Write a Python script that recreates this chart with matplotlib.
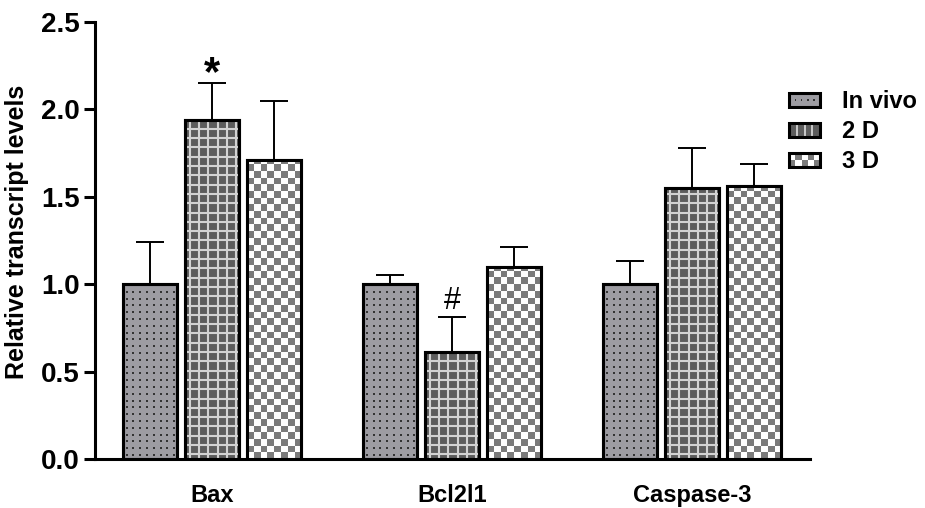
import numpy as np
import matplotlib
matplotlib.use("Agg")
import matplotlib.pyplot as plt
from matplotlib.patches import Rectangle
from matplotlib.lines import Line2D
from matplotlib.legend_handler import HandlerBase

# ---- data ----
genes = ["Bax", "Bcl2l1", "Caspase-3"]
groups = ["In vivo", "2 D", "3 D"]
in_vivo = [1.00, 1.00, 1.00]
in_vivo_err = [0.24, 0.05, 0.13]
two_d = [1.94, 0.61, 1.55]
two_d_err = [0.21, 0.20, 0.23]
three_d = [1.71, 1.10, 1.56]
three_d_err = [0.34, 0.11, 0.13]
marks = [("*", 0, 1, 0.09), ("#", 1, 1, 0.095)]  # (symbol, gene, group, gap above error bar)

plt.rcParams["font.family"] = ["Liberation Sans", "DejaVu Sans"]
plt.rcParams["font.weight"] = "bold"

fig = plt.figure(figsize=(9.25, 5.08), dpi=100)
ax = fig.add_axes([95 / 925, 49 / 508, 715 / 925, 437 / 508])

x = np.arange(len(genes))
width = 0.225
step = 0.258
series = [(in_vivo, in_vivo_err), (two_d, two_d_err), (three_d, three_d_err)]
XLIM = (-0.4875, 2.49)
YLIM = (0, 2.5)
ax.set_xlim(*XLIM)
ax.set_ylim(*YLIM)

EDGE = 2.2
DOT_FACE, DOT_COL = "#9d9ca2", "#333333"
GRID_FACE, GRID_COL = "#5c5c5c", "#d2d2d2"
CHECK_GRAY = "#7b7b7b"

b0 = ax.bar(x - step, in_vivo, width, facecolor=DOT_FACE, edgecolor="black",
            linewidth=EDGE, zorder=3)
b1 = ax.bar(x, two_d, width, facecolor=GRID_FACE, edgecolor="black",
            linewidth=EDGE, zorder=3)
b2 = ax.bar(x + step, three_d, width, facecolor="white", edgecolor="black",
            linewidth=EDGE, zorder=3)

# textures drawn over the bar faces, clipped to each bar, edge redrawn on top
fig.canvas.draw()
pxx = ax.transData.transform((1, 0))[0] - ax.transData.transform((0, 0))[0]
pxy = ax.transData.transform((0, 1))[1] - ax.transData.transform((0, 0))[1]


def outline(p):
    r = Rectangle((p.get_x(), 0), p.get_width(), p.get_height(), facecolor="none",
                  edgecolor="black", linewidth=EDGE, zorder=3.5)
    ax.add_patch(r)


for p in b0:
    x0, w, h = p.get_x(), p.get_width(), p.get_height()
    sp = 6.8
    xs = x0 + (np.arange(3.5, w * pxx, sp)) / pxx
    ys = (np.arange(4.0, h * pxy, sp)) / pxy
    gx, gy = np.meshgrid(xs, ys)
    sc = ax.scatter(gx.ravel(), gy.ravel(), s=2.2, marker="s", color=DOT_COL,
                    linewidths=0, zorder=3.2)
    sc.set_clip_path(p)
    outline(p)

for p in b1:
    x0, w, h = p.get_x(), p.get_width(), p.get_height()
    sp = 9.3
    vx = x0 + np.arange(sp / 2, w * pxx, sp) / pxx
    hy = np.arange(sp / 2, h * pxy, sp) / pxy
    lv = ax.vlines(vx, 0, h, colors=GRID_COL, linewidth=1.5, zorder=3.2)
    lh = ax.hlines(hy, x0, x0 + w, colors=GRID_COL, linewidth=1.5, zorder=3.2)
    lv.set_clip_path(p)
    lh.set_clip_path(p)
    outline(p)

sq = 6.7
for p in b2:
    x0, w, h = p.get_x(), p.get_width(), p.get_height()
    nc = int(np.ceil(w * pxx / sq))
    nr = int(np.ceil(h * pxy / sq))
    board = (np.add.outer(np.arange(nr), np.arange(nc)) % 2).astype(float)
    im = ax.imshow(board, cmap=matplotlib.colors.ListedColormap(["white", CHECK_GRAY]),
                   extent=(x0, x0 + nc * sq / pxx, 0, nr * sq / pxy),
                   origin="lower", interpolation="nearest", aspect="auto", zorder=3.2)
    im.set_clip_path(p)
    outline(p)

ax.set_xlim(*XLIM)
ax.set_ylim(*YLIM)

# upper error bars
for off, (vals, errs) in zip([-step, 0, step], series):
    ax.errorbar(x + off, vals, yerr=[np.zeros(len(errs)), errs], fmt="none",
                ecolor="black", elinewidth=1.4, capsize=9.8, capthick=1.4, zorder=2.5)

# significance marks
for sym, gi, si, gap in marks:
    vals, errs = series[si]
    top = vals[gi] + errs[gi] + gap
    xpos = x[gi] + (si - 1) * step
    if sym == "*":
        ax.text(xpos, top - 0.04, sym, ha="center", va="center",
                fontsize=30, fontweight="bold")
    else:
        ax.text(xpos, top, sym, ha="center", va="center",
                fontsize=22, fontweight="normal")

# axes styling
for s in ["top", "right"]:
    ax.spines[s].set_visible(False)
for s in ["left", "bottom"]:
    ax.spines[s].set_linewidth(2.2)
ax.set_yticks([0, 0.5, 1.0, 1.5, 2.0, 2.5])
ax.set_yticklabels(["0.0", "0.5", "1.0", "1.5", "2.0", "2.5"])
ax.tick_params(axis="y", length=8, width=2.2, labelsize=20, pad=3)
ax.set_xticks(x)
ax.set_xticklabels(genes)
ax.tick_params(axis="x", length=0, labelsize=17, pad=18)
ax.set_ylabel("Relative transcript levels", fontsize=18, fontweight="bold")
ax.yaxis.set_label_coords(-0.093, 0.52)


class TextureHandler(HandlerBase):
    def __init__(self, kind):
        super().__init__()
        self.kind = kind

    def create_artists(self, legend, orig_handle, xdescent, ydescent, width, height,
                       fontsize, trans):
        x0, y0 = -xdescent, -ydescent
        arts = []
        if self.kind == "dots":
            arts.append(Rectangle((x0, y0), width, height, facecolor=DOT_FACE,
                                  edgecolor="none", transform=trans))
            for i in range(4):
                cx = x0 + width * (0.2 + 0.2 * i)
                arts.append(Rectangle((cx - 0.6, y0 + height / 2 - 0.6), 1.2, 1.2,
                                      facecolor=DOT_COL, edgecolor="none", transform=trans))
        elif self.kind == "grid":
            arts.append(Rectangle((x0, y0), width, height, facecolor=GRID_FACE,
                                  edgecolor="none", transform=trans))
            for i in range(1, 4):
                cx = x0 + width * i / 4
                arts.append(Line2D([cx, cx], [y0, y0 + height], color=GRID_COL,
                                   linewidth=1.3, transform=trans))
        else:
            nc, nr = 5, 2
            cw, ch = width / nc, height / nr
            for r in range(nr):
                for c in range(nc):
                    col = CHECK_GRAY if (r + c) % 2 == 0 else "white"
                    arts.append(Rectangle((x0 + c * cw, y0 + r * ch), cw, ch,
                                          facecolor=col, edgecolor="none", transform=trans))
        arts.append(Rectangle((x0, y0), width, height, facecolor="none",
                              edgecolor="black", linewidth=EDGE, transform=trans))
        return arts


leg = ax.legend([b0[0], b1[0], b2[0]], groups, loc="upper left",
                bbox_to_anchor=(768 / 925, 1 - 69 / 508), bbox_transform=fig.transFigure,
                frameon=False, fontsize=17, handlelength=1.3, handleheight=0.55,
                handletextpad=0.95, labelspacing=0.3,
                handler_map={b0[0]: TextureHandler("dots"), b1[0]: TextureHandler("grid"),
                             b2[0]: TextureHandler("check")})

fig.savefig("out.png", dpi=100, facecolor="white")
